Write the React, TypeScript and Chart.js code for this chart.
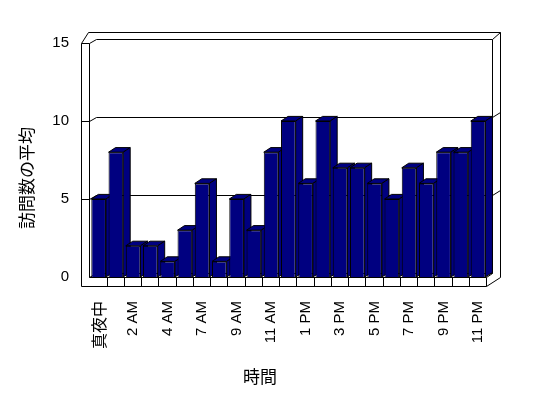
import React, { useEffect, useRef } from 'react';
import { Chart, registerables } from 'chart.js';

Chart.register(...registerables);

const hourLabels = ['真夜中', '1 AM', '2 AM', '3 AM', '4 AM', '5 AM', '7 AM', '8 AM', '9 AM', '10 AM', '11 AM', '正午', '1 PM', '2 PM', '3 PM', '4 PM', '5 PM', '6 PM', '7 PM', '8 PM', '9 PM', '10 PM', '11 PM'];
const visitValues = [5, 8, 2, 2, 1, 3, 6, 1, 5, 3, 8, 10, 6, 10, 7, 7, 6, 5, 7, 6, 8, 8, 10];
const yGridValues = [5, 10];
const yTitle = '訪問数の平均';
const xTitle = '時間';

const NAVY = '#000080';
const LATIN = '"Liberation Sans", Arial, "Noto Sans CJK JP", sans-serif';
const CJK = '"Noto Sans CJK JP", "Liberation Sans", sans-serif';

const P = (v: number) => Math.floor(v) + 0.5;

function poly(ctx: CanvasRenderingContext2D, pts: number[][], close = false, fill?: string) {
  ctx.beginPath();
  ctx.moveTo(pts[0][0], pts[0][1]);
  for (let i = 1; i < pts.length; i++) ctx.lineTo(pts[i][0], pts[i][1]);
  if (close) ctx.closePath();
  if (fill) {
    ctx.fillStyle = fill;
    ctx.fill();
  }
  ctx.stroke();
}

function seg(ctx: CanvasRenderingContext2D, pts: number[][]) {
  poly(ctx, pts.map(([x, y]) => [P(x), P(y)]));
}

const frame3d = {
  id: 'frame3d',
  beforeDatasetsDraw(chart: any) {
    const { ctx, chartArea: a, scales } = chart;
    const y = scales.y;
    const L = a.left, R = a.right, B = a.bottom, T = a.top;
    const wallT = 9, floorT = 9;
    const inX = 6, inY = -4;
    const outX = 13.5, outY = -11;
    ctx.save();
    ctx.strokeStyle = '#000';
    ctx.lineWidth = 1;
    // left wall + floor front faces
    seg(ctx, [[L - wallT, T], [L - wallT, B + floorT], [R, B + floorT], [R, B]]);
    seg(ctx, [[L - wallT, T], [L - 1, T], [L - 1, B], [R, B]]);
    // category dividers on floor front
    const n = hourLabels.length;
    for (let i = 1; i < n; i++) {
      const x = L + ((R - L) * i) / n;
      seg(ctx, [[x, B], [x, B + floorT]]);
    }
    // left wall top
    seg(ctx, [[L - wallT, T], [L - wallT + 7, T + outY]]);
    seg(ctx, [[L - 1, T], [L + inX, T + inY]]);
    // back wall top & right edges
    seg(ctx, [[L - wallT + 7, T + outY], [R + outX, T + outY]]);
    seg(ctx, [[L + inX, T + inY], [R + inX, T + inY]]);
    seg(ctx, [[R + inX, T + inY], [R + outX, T + outY]]);
    seg(ctx, [[R + inX, T + inY], [R + inX, B + inY]]);
    seg(ctx, [[R + outX, T + outY], [R + outX, B]]);
    // floor right face
    seg(ctx, [[R, B], [R + inX, B + inY]]);
    seg(ctx, [[R, B + floorT], [R + outX, B]]);
    // back wall bottom
    seg(ctx, [[L - 1, B], [L + inX, B + inY], [R + inX, B + inY]]);
    // gridlines
    for (const v of yGridValues) {
      const py = y.getPixelForValue(v);
      seg(ctx, [[L - wallT, py], [L - 1, py], [L + inX, py + inY], [R + inX, py + inY], [R + outX, py + outY + 2]]);
    }
    // 3D bar faces (top + side), drawn behind the front faces
    const meta = chart.getDatasetMeta(0);
    const dx = 7, dy = -4.6;
    ctx.strokeStyle = '#000';
    for (const el of meta.data) {
      const { x, y: top, base, width } = el;
      const l = x - width / 2, r = x + width / 2;
      poly(ctx, [[l, top], [l + dx, top + dy], [r + dx, top + dy], [r, top]], true, NAVY);
      poly(ctx, [[r, top], [r + dx, top + dy], [r + dx, base + dy], [r, base]], true, NAVY);
    }
    ctx.restore();
  },
  afterDraw(chart: any) {
    const { ctx } = chart;
    ctx.save();
    ctx.fillStyle = '#000';
    ctx.font = `17px ${CJK}`;
    ctx.textAlign = 'center';
    ctx.textBaseline = 'middle';
    ctx.fillText(xTitle, 260, 377);
    ctx.translate(27, 178);
    ctx.rotate(-Math.PI / 2);
    ctx.fillText(yTitle, 0, 0);
    ctx.restore();
  },
};

export default function App() {
  const ref = useRef<HTMLCanvasElement>(null);
  useEffect(() => {
    if (!ref.current) return;
    const chart = new Chart(ref.current, {
      type: 'bar',
      data: {
        labels: hourLabels,
        datasets: [
          {
            data: visitValues,
            backgroundColor: NAVY,
            borderColor: '#000',
            borderWidth: 1,
            barPercentage: 0.85,
            categoryPercentage: 1,
          },
        ],
      },
      options: {
        animation: false,
        responsive: false,
        devicePixelRatio: 1,
        layout: { padding: { left: 0, top: 43, right: 61.3, bottom: 0 } },
        plugins: { legend: { display: false }, tooltip: { enabled: false }, title: { display: false } },
        scales: {
          x: {
            grid: { display: false, drawTicks: false },
            border: { display: false },
            ticks: {
              autoSkip: false,
              maxRotation: 90,
              minRotation: 90,
              padding: 24,
              color: '#000',
              font: (c: any) => ({ family: c.index === 0 ? CJK : LATIN, size: c.index === 0 ? 16 : 15 }),
              callback: (_v: any, i: number) => (i % 2 === 0 ? hourLabels[i] : ''),
            },
            afterFit: (s: any) => {
              s.height = 121;
            },
          },
          y: {
            min: 0,
            max: 15,
            grid: { display: false, drawTicks: false },
            border: { display: false },
            ticks: { stepSize: 5, padding: 21, color: '#000', font: { family: LATIN, size: 15 } },
            afterFit: (s: any) => {
              s.width = 90;
            },
          },
        },
      },
      plugins: [frame3d],
    });
    return () => chart.destroy();
  }, []);
  return (
    <div style={{ position: 'absolute', left: 0, top: 0, width: 548, height: 398, background: '#fff' }}>
      <canvas ref={ref} width={548} height={398} />
    </div>
  );
}
